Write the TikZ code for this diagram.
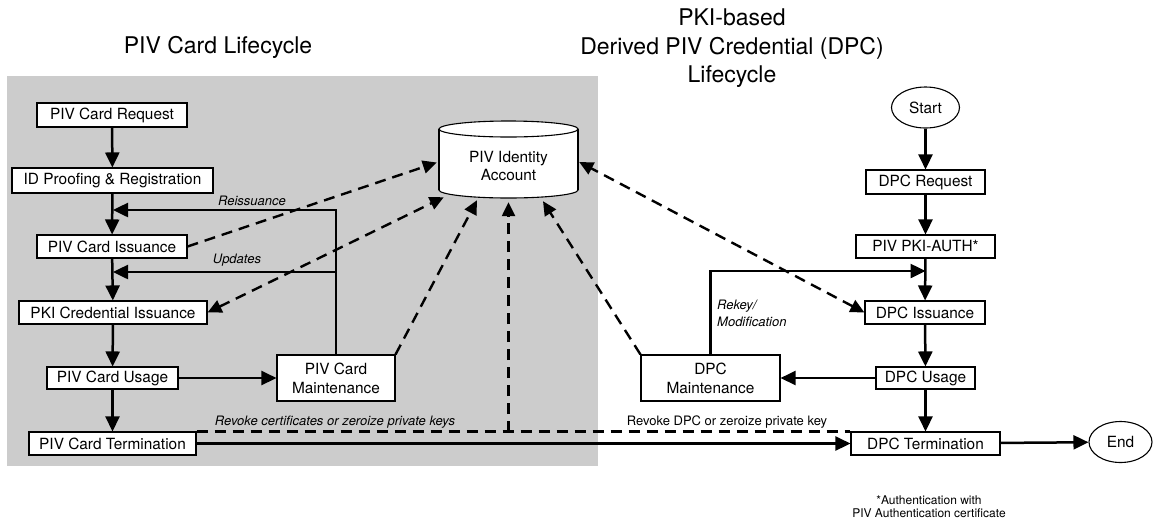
\documentclass[tikz,border=0pt]{standalone}
\usepackage{fontspec}
\setmainfont{TeX Gyre Heros}
\usetikzlibrary{arrows.meta,calc,shapes.geometric}
\definecolor{panel}{RGB}{204,204,204}
\begin{document}
\begin{tikzpicture}[x=1pt,y=-1pt,
  box/.style={draw, line width=1.1pt, fill=white, inner sep=0pt, align=center,
    font=\fontsize{15.4}{19}\selectfont},
  oval/.style={draw, ellipse, line width=1.1pt, fill=white, inner sep=0pt,
    font=\fontsize{15.4}{19}\selectfont},
  flow/.style={line width=2.5pt, -{Triangle[length=15pt,width=14pt]}},
  link/.style={line width=2.4pt, dash pattern=on 11pt off 7pt},
  linkto/.style={link, -{Triangle[length=14pt,width=13pt]}},
  linkboth/.style={link, {Triangle[length=14pt,width=13pt]}-{Triangle[length=14pt,width=13pt]}},
  note/.style={inner sep=0pt, font=\fontsize{13}{17}\selectfont},
  inote/.style={note, font=\fontsize{13}{17}\selectfont\itshape},
  title/.style={inner sep=0pt, align=center, font=\fontsize{23}{28.5}\selectfont}
]
\useasboundingbox (0,0) rectangle (1154,523);

% shaded panel for the card lifecycle
\fill[panel] (7,76) rectangle (598,466);

% titles
\node[title] (t1) at (218,47) {PIV Card Lifecycle};
\node[title] (t2) at (732,48.5) {PKI-based\\Derived PIV Credential (DPC)\\Lifecycle};

% identity account store (cylinder)
\node[minimum width=139pt, minimum height=77pt, inner sep=0pt] (acct) at (508.5,159.5) {};
\draw[line width=1.1pt, fill=white] (508.5,190) ellipse [x radius=69.5pt, y radius=8pt];
\fill[white] (439,129) rectangle (578,190);
\draw[line width=1.1pt] (439,129) -- (439,190) (578,129) -- (578,190);
\draw[line width=1.1pt, fill=white] (508.5,129) ellipse [x radius=69.5pt, y radius=8pt];
\node[align=center, inner sep=0pt, font=\fontsize{15.4}{18}\selectfont] (acctlbl) at (508.5,166) {PIV Identity\\Account};

% card lifecycle steps
\node[box, minimum width=150pt, minimum height=24pt] (req) at (112,115) {PIV Card Request};
\node[box, minimum width=201pt, minimum height=25pt] (idp) at (112.5,180.5) {ID Proofing \& Registration};
\node[box, minimum width=150pt, minimum height=23pt] (iss) at (112,246.5) {PIV Card Issuance};
\node[box, minimum width=188pt, minimum height=23pt] (pki) at (113,312.5) {PKI Credential Issuance};
\node[box, minimum width=131pt, minimum height=22pt] (use) at (112.5,378) {PIV Card Usage};
\node[box, minimum width=118pt, minimum height=46pt] (mnt) at (336,378) {PIV Card\\Maintenance};
\node[box, minimum width=167pt, minimum height=23pt] (trm) at (112.5,443.5) {PIV Card Termination};

% derived credential lifecycle steps
\node[oval, minimum width=68pt, minimum height=41pt] (start) at (925.5,107.5) {Start};
\node[box, minimum width=119pt, minimum height=24pt] (dreq) at (925.5,182) {DPC Request};
\node[box, minimum width=139pt, minimum height=23pt] (auth) at (925.5,246.5) {PIV PKI-AUTH*};
\node[box, minimum width=120pt, minimum height=23pt] (diss) at (925,312.5) {DPC Issuance};
\node[box, minimum width=99pt, minimum height=22pt] (duse) at (925.5,378) {DPC Usage};
\node[box, minimum width=139pt, minimum height=46pt] (dmnt) at (710.5,378) {DPC\\Maintenance};
\node[box, minimum width=149pt, minimum height=23pt] (dtrm) at (925.5,443.5) {DPC Termination};
\node[oval, minimum width=63pt, minimum height=41pt] (end) at (1120.5,442) {End};

% junction points on the main flows
\coordinate (reiss) at (113,210);
\coordinate (upd) at (113,272);
\coordinate (rkey) at (925.5,271);
\coordinate (rv) at (508.5,432);

% card lifecycle flow
\draw[flow] (req) -- (idp);
\draw[flow] (idp) -- (iss);
\draw[flow] (iss) -- (pki);
\draw[flow] (pki) -- (use);
\draw[flow] (use) -- (trm);
\draw[flow] (use) -- (mnt);
\draw[flow] (mnt.north) |- (reiss);
\draw[flow] (mnt.north |- upd) -- (upd);
\draw[flow] (trm) -- (dtrm);

% derived credential flow
\draw[flow] (start) -- (dreq);
\draw[flow] (dreq) -- (auth);
\draw[flow] (auth) -- (diss);
\draw[flow] (diss) -- (duse);
\draw[flow] (duse) -- (dtrm);
\draw[flow] (duse) -- (dmnt);
\draw[flow] (dmnt.north) |- (rkey);
\draw[flow] (dtrm) -- (end);

% links to the identity account
\draw[linkto] (iss.east) -- ($(acct.west)+(-2,3)$);
\draw[linkboth] (pki.east) -- ($(acct.south west)+(5,-1)$);
\draw[linkto] (mnt.north east) -- ($(acct.south)+(-31.5,2)$);
\draw[link] (trm.north east) -- (dtrm.north west);
\draw[linkto] (rv) -- ($(acct.south)+(0,4)$);
\draw[linkto] (dmnt.north west) -- ($(acct.south)+(34.5,3)$);
\draw[linkboth] (diss.west) -- ($(acct.east)+(1,2.5)$);

% connector labels
\node[inote] (lreiss) at (252,201) {Reissuance};
\node[inote] (lupd) at (237,260) {Updates};
\node[inote] (lrev) at (335,422) {Revoke certificates or zeroize private keys};
\node[note] (ldrev) at (727,422) {Revoke DPC or zeroize private key};
\node[inote, align=left, anchor=west] (lrkey) at (717,313.5) {Rekey/\\Modification};

% footnote
\node[align=center, inner sep=0pt, font=\fontsize{12}{13}\selectfont] (fn) at (929,506.5) {*Authentication with\\PIV Authentication certificate};
\end{tikzpicture}
\end{document}
